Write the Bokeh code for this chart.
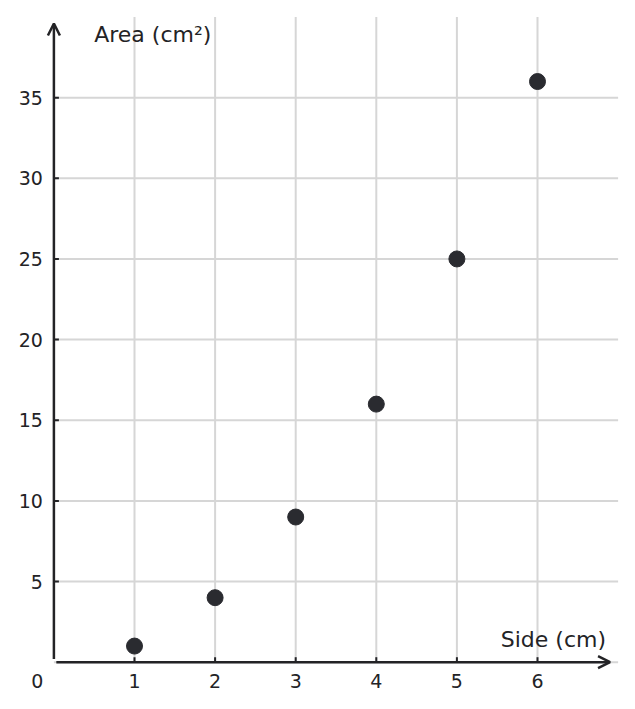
from bokeh.plotting import figure
from bokeh.models import Range1d, Arrow, OpenHead, Label
from bokeh.core.properties import value
from bokeh.embed import file_html
from bokeh.resources import INLINE

side = [1, 2, 3, 4, 5, 6]
area = [1, 4, 9, 16, 25, 36]
x_ticks = [1, 2, 3, 4, 5, 6]
y_ticks = [5, 10, 15, 20, 25, 30, 35]
x_max = 7
y_max = 40

INK = "#232326"
GRID = "#d6d6d6"
FONT = "DejaVu Sans"

W, H = 619, 693
x0_px, y0_px = 53.4, 661.7          # pixel of data origin
sx, sy = 80.6, 16.13                 # pixels per unit

p = figure(width=W, height=H, output_backend="svg", toolbar_location=None,
           x_range=Range1d(-x0_px / sx, (W - x0_px) / sx),
           y_range=Range1d(-(H - y0_px) / sy, y0_px / sy),
           x_axis_location=None, y_axis_location=None,
           min_border=0, min_border_left=0, min_border_right=0,
           min_border_top=0, min_border_bottom=0)
p.outline_line_color = None
p.xgrid.visible = False
p.ygrid.visible = False

# grid lines
p.segment(x0=x_ticks, y0=[0] * len(x_ticks), x1=x_ticks, y1=[y_max] * len(x_ticks),
          line_color=GRID, line_width=2)
hy = [0] + y_ticks
p.segment(x0=[0] * len(hy), y0=hy, x1=[x_max] * len(hy), y1=hy,
          line_color=GRID, line_width=2)

# tick marks (inside)
p.segment(x0=x_ticks, y0=[0] * len(x_ticks), x1=x_ticks, y1=[5 / sy] * len(x_ticks),
          line_color=INK, line_width=2)
p.segment(x0=[0] * len(y_ticks), y0=y_ticks, x1=[5 / sx] * len(y_ticks), y1=y_ticks,
          line_color=INK, line_width=2)

# axes with arrows
p.add_layout(Arrow(end=OpenHead(size=12, line_width=2.5, line_color=INK),
                   x_start=0.03, y_start=0, x_end=6.9, y_end=0,
                   line_width=2.5, line_color=INK))
p.add_layout(Arrow(end=OpenHead(size=12, line_width=2.5, line_color=INK),
                   x_start=0, y_start=0.2, x_end=0, y_end=39.6,
                   line_width=2.5, line_color=INK))

# tick labels
p.text(x=x_ticks, y=[0] * len(x_ticks), text=[str(t) for t in x_ticks],
       x_offset=0, y_offset=19, text_align="center", text_baseline="middle",
       text_font=value(FONT), text_font_size="19px", text_color=INK)
p.text(x=[0] * len(y_ticks), y=y_ticks, text=[str(t) for t in y_ticks],
       x_offset=-11, y_offset=0, text_align="right", text_baseline="middle",
       text_font=value(FONT), text_font_size="19px", text_color=INK)
p.text(x=[0], y=[0], text=["0"], x_offset=-16.5, y_offset=19,
       text_align="center", text_baseline="middle",
       text_font=value(FONT), text_font_size="19px", text_color=INK)

# data
p.scatter(side, area, size=16, color="#2a2b30")

# axis titles
p.add_layout(Label(x=0.5, y=38.92, text="Area (cm²)", text_font=FONT,
                   text_font_size="22px", text_color=INK, text_baseline="alphabetic"))
p.add_layout(Label(x=6.85, y=1.41, text="Side (cm)", text_font=FONT,
                   text_font_size="22px", text_color=INK, text_align="right",
                   text_baseline="alphabetic"))

open("out.html", "w").write(file_html(p, INLINE))
